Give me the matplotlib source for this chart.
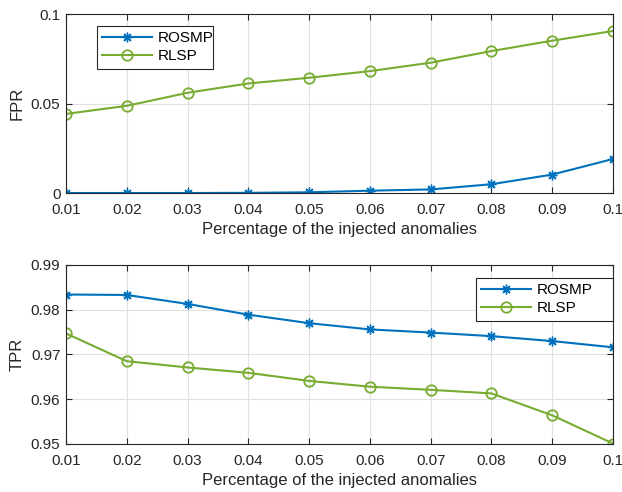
import numpy as np
import matplotlib.pyplot as plt

plt.rcParams['font.family'] = ['Liberation Sans', 'DejaVu Sans']

# Data
pct = [0.01, 0.02, 0.03, 0.04, 0.05, 0.06, 0.07, 0.08, 0.09, 0.1]
xticklabels = ["0.01", "0.02", "0.03", "0.04", "0.05", "0.06", "0.07", "0.08", "0.09", "0.1"]

fpr_rosmp = [0.0, 0.0, 0.0, 0.0001, 0.0004, 0.0013, 0.002, 0.0049, 0.0103, 0.019]
fpr_rlsp = [0.0442, 0.0487, 0.056, 0.0612, 0.0644, 0.0681, 0.0728, 0.0793, 0.0851, 0.0905]

tpr_rosmp = [0.9834, 0.9833, 0.9813, 0.9789, 0.9770, 0.9756, 0.9749, 0.9741, 0.9730, 0.9716]
tpr_rlsp = [0.9747, 0.9685, 0.9671, 0.9659, 0.9641, 0.9628, 0.9621, 0.9613, 0.9564, 0.9501]

blue = (0, 0.447, 0.741)
green = (0.466, 0.674, 0.188)
dark = (0.15, 0.15, 0.15)

fig = plt.figure(figsize=(6.22, 4.92), dpi=100)
ax1 = fig.add_axes([0.1061, 0.6077, 0.8794, 0.3638])
ax2 = fig.add_axes([0.1061, 0.0976, 0.8794, 0.3638])


def style(ax):
    ax.set_xlim(0.01, 0.1)
    ax.set_xticks(pct)
    ax.set_xticklabels(xticklabels)
    ax.grid(True, color=(0.88, 0.88, 0.88), linewidth=0.8)
    ax.set_axisbelow(True)
    ax.tick_params(direction='in', top=True, right=True, labelsize=11, colors=dark, length=4)
    ax.tick_params(axis='x', pad=7)
    ax.tick_params(axis='y', pad=4)
    for s in ax.spines.values():
        s.set_color(dark)
        s.set_linewidth(0.8)
    ax.set_xlabel("Percentage of the injected anomalies", fontsize=12, color=dark, labelpad=4)
    ax.yaxis.set_label_coords(-0.076, 0.5)


def add_legend(ax, x, y, w):
    leg = ax.legend(loc='upper left', bbox_to_anchor=(x, y - 0.3, w, 0.3), mode='expand',
                    borderaxespad=0, fontsize=11, fancybox=False, edgecolor=dark, framealpha=1,
                    handlelength=3.3, handletextpad=0.35, borderpad=0.35, labelspacing=0.25)
    leg.get_frame().set_linewidth(0.8)


ax1.plot(pct, fpr_rosmp, color=blue, marker=(8, 2, 0), markersize=7, linewidth=1.5, label="ROSMP")
ax1.plot(pct, fpr_rlsp, color=green, marker='o', markerfacecolor='none', markersize=7.5,
         markeredgewidth=1.3, linewidth=1.5, label="RLSP")
style(ax1)
ax1.set_ylim(0, 0.1)
ax1.set_yticks([0, 0.05, 0.1])
ax1.set_yticklabels(["0", "0.05", "0.1"])
ax1.set_ylabel("FPR", fontsize=12, color=dark)
add_legend(ax1, 0.056, 0.933, 0.212)

ax2.plot(pct, tpr_rosmp, color=blue, marker=(8, 2, 0), markersize=7, linewidth=1.5, label="ROSMP")
ax2.plot(pct, tpr_rlsp, color=green, marker='o', markerfacecolor='none', markersize=7.5,
         markeredgewidth=1.3, linewidth=1.5, label="RLSP")
style(ax2)
ax2.set_ylim(0.95, 0.99)
ax2.set_yticks([0.95, 0.96, 0.97, 0.98, 0.99])
ax2.set_yticklabels(["0.95", "0.96", "0.97", "0.98", "0.99"])
ax2.set_ylabel("TPR", fontsize=12, color=dark)
add_legend(ax2, 0.749, 0.927, 0.2516)

fig.savefig("out.png", dpi=100)
